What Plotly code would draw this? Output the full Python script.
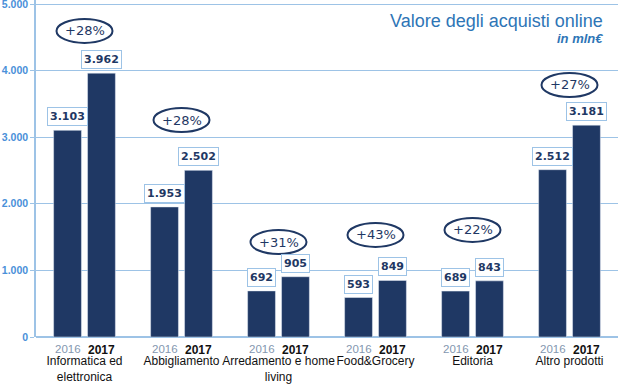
import plotly.graph_objects as go

categories = ["Informatica ed<br>elettronica", "Abbigliamento", "Arredamento e home<br>living",
              "Food&Grocery", "Editoria", "Altro prodotti"]
years = ["2016", "2017"]
values_2016 = [3103, 1953, 692, 593, 689, 2512]
values_2017 = [3962, 2502, 905, 849, 843, 3181]
y_ticks = [0, 1000, 2000, 3000, 4000, 5000]

# vertical placement (data units) of the growth-rate ellipses
growth_label_y = [4595, 3258, 1426, 1532, 1607, 3784]

NAVY = "#1f3864"
LIGHT = "#9dc3e6"
BLUE_TXT = "#2e75b6"
FONT = "Liberation Sans"

idx = list(range(len(categories)))

fig = go.Figure()
fig.add_trace(go.Bar(x=idx, y=values_2016, name=years[0], marker_color=NAVY))
fig.add_trace(go.Bar(x=idx, y=values_2017, name=years[1], marker_color=NAVY))

ann = []
shapes = []
for i in idx:
    for v, sh in ((values_2016[i], -17), (values_2017[i], 17)):
        ann.append(dict(x=i, y=v, xref="x", yref="y", xshift=sh, yshift=4, yanchor="bottom",
                        text=f"{v:,}".replace(",", "."), showarrow=False,
                        font=dict(family="DejaVu Sans", size=11, color=NAVY, weight="bold"),
                        bgcolor="white", bordercolor=LIGHT, borderwidth=1, borderpad=2))
    # year labels under the bars
    ann.append(dict(x=i, y=0, xref="x", yref="y", xshift=-17, yshift=-4, yanchor="top",
                    text=years[0], showarrow=False,
                    font=dict(family=FONT, size=11.5, color="#8497b0")))
    ann.append(dict(x=i, y=0, xref="x", yref="y", xshift=17, yshift=-4, yanchor="top",
                    text=f"<b>{years[1]}</b>", showarrow=False,
                    font=dict(family=FONT, size=12, color="#111111")))
    g = round((values_2017[i] / values_2016[i] - 1) * 100)
    ann.append(dict(x=i, y=growth_label_y[i], xref="x", yref="y", text=f"+{g}%", showarrow=False,
                    font=dict(family="DejaVu Sans", size=13, color=NAVY)))
    shapes.append(dict(type="circle", xref="x", yref="y", xsizemode="pixel", ysizemode="pixel",
                       xanchor=i, yanchor=growth_label_y[i], x0=-28, x1=28, y0=-12, y1=12,
                       line=dict(color=NAVY, width=2), fillcolor="rgba(0,0,0,0)"))

ann.append(dict(x=0.977, y=0.973, xref="paper", yref="paper", xanchor="right", yanchor="top",
                text="Valore degli acquisti online", showarrow=False,
                font=dict(family=FONT, size=18, color=BLUE_TXT)))
ann.append(dict(x=0.977, y=0.914, xref="paper", yref="paper", xanchor="right", yanchor="top",
                text="<b><i>in mln€</i></b>", showarrow=False,
                font=dict(family=FONT, size=13, color=BLUE_TXT)))

fig.update_layout(
    width=619, height=384,
    margin=dict(l=36, r=1, t=0, b=47, autoexpand=False),
    paper_bgcolor="white", plot_bgcolor="white",
    barmode="group", bargap=0.30, bargroupgap=0.18,
    showlegend=False,
    separators=",.",
    annotations=ann, shapes=shapes,
    font=dict(family=FONT),
)
fig.update_xaxes(
    tickmode="array", tickvals=idx, ticktext=categories, range=[-0.5, len(categories) - 0.5],
    showgrid=False, showline=False, zeroline=False, ticks="", ticklabelstandoff=15,
    tickangle=0, automargin=False,
    tickfont=dict(family=FONT, size=12, color="#111111"),
)
fig.update_yaxes(
    range=[0, 5060], tickvals=y_ticks, tickformat=",d", automargin=False,
    ticklabeloverflow="allow",
    showgrid=True, gridcolor=LIGHT, gridwidth=1,
    showline=True, linecolor=LIGHT, linewidth=1.5,
    zeroline=True, zerolinecolor=LIGHT, zerolinewidth=1.5,
    ticks="outside", ticklen=4, tickcolor=LIGHT,
    tickfont=dict(family=FONT, size=10.5, color="#4a90d9", weight="bold"),
)

fig.write_html("out.html", config={"displayModeBar": False},
               post_script="document.body.style.margin='0';document.body.style.padding='0';")
